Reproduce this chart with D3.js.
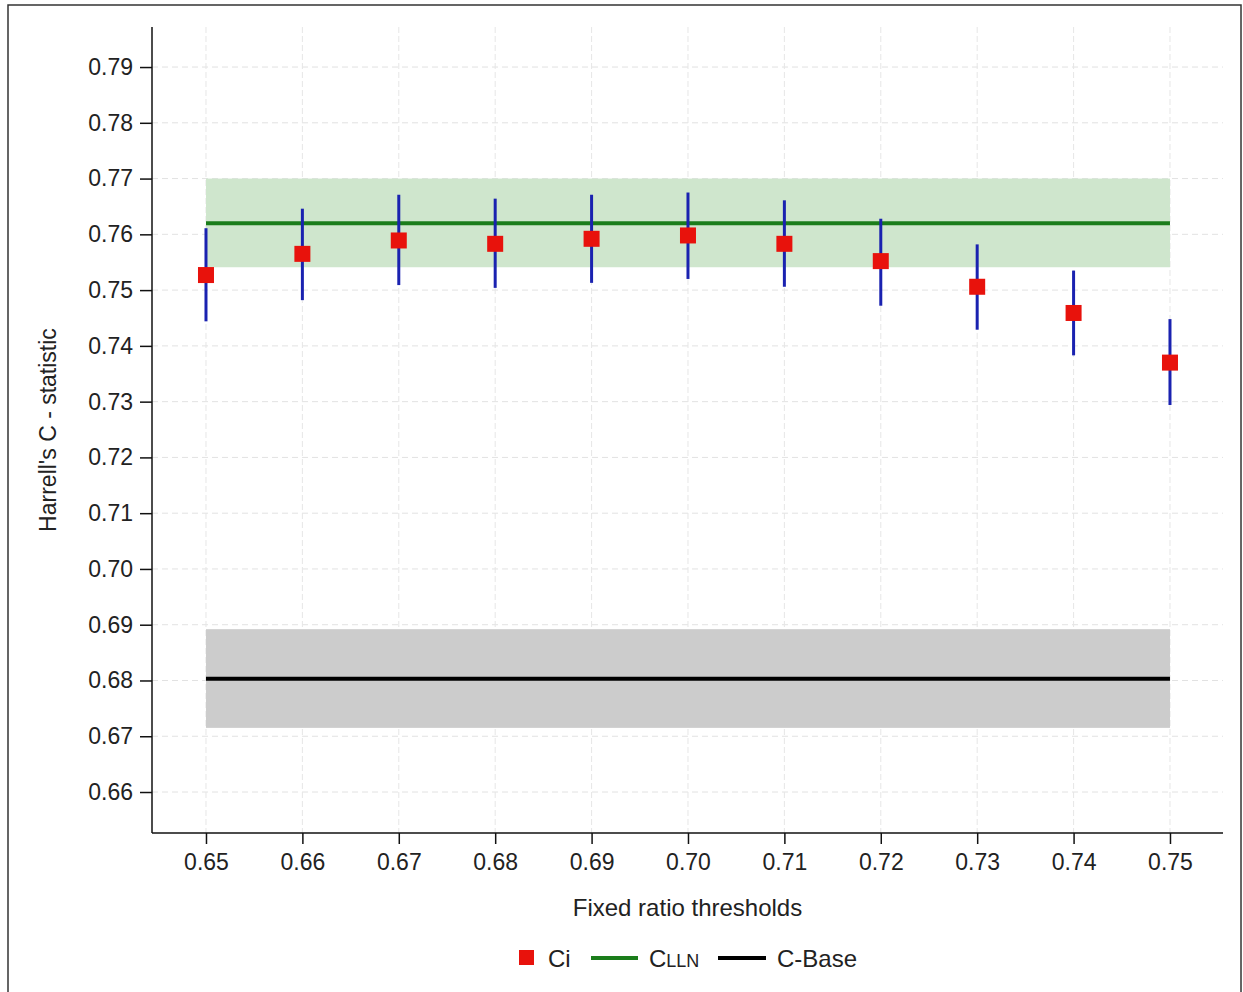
<!DOCTYPE html>
<html>
<head>
<meta charset="utf-8">
<script src="https://cdn.jsdelivr.net/npm/d3@7"></script>
<style>
  body { margin: 0; background: #fff; }
  svg { font-family: "Liberation Sans", Arial, sans-serif; }
</style>
</head>
<body>
<div id="chart"></div>
<script>
// data
var thresholds = [0.65, 0.66, 0.67, 0.68, 0.69, 0.70, 0.71, 0.72, 0.73, 0.74, 0.75]
var ciMean = [0.7527, 0.7565, 0.7589, 0.7583, 0.7592, 0.7598, 0.7583, 0.7552, 0.7506, 0.7459, 0.7370]
var ciLow  = [0.7444, 0.7482, 0.7509, 0.7504, 0.7513, 0.7520, 0.7506, 0.7472, 0.7429, 0.7383, 0.7294]
var ciHigh = [0.7611, 0.7646, 0.7671, 0.7664, 0.7671, 0.7675, 0.7661, 0.7628, 0.7582, 0.7535, 0.7448]

var cLLN = 0.7620
var cLLNBand = [0.7541, 0.7700]
var cBase = 0.6803
var cBaseBand = [0.6715, 0.6892]

var yTicks = [0.66, 0.67, 0.68, 0.69, 0.70, 0.71, 0.72, 0.73, 0.74, 0.75, 0.76, 0.77, 0.78, 0.79]

var W = 1243, H = 992
// plot area (window.top is reserved, so prefixed names)
var pLeft = 152, pRight = 1223, pTop = 27, pBottom = 833

var svg = d3.select("#chart").append("svg")
  .attr("width", W)
  .attr("height", H)

// outer frame
svg.append("rect")
  .attr("x", 8).attr("y", 5)
  .attr("width", 1233).attr("height", 1000)
  .attr("fill", "none")
  .attr("stroke", "#333")
  .attr("stroke-width", 1.5)

var x = d3.scaleLinear().domain([0.6444, 0.7555]).range([pLeft, pRight])
var y = d3.scaleLinear().domain([0.65265, 0.79718]).range([pBottom, pTop])

// grid
svg.append("g").selectAll("line")
  .data(yTicks)
  .join("line")
  .attr("x1", pLeft).attr("x2", pRight)
  .attr("y1", d => y(d)).attr("y2", d => y(d))
  .attr("stroke", "#e2e2e2")
  .attr("stroke-width", 1)
  .attr("stroke-dasharray", "6,4")

svg.append("g").selectAll("line")
  .data(thresholds)
  .join("line")
  .attr("x1", d => x(d)).attr("x2", d => x(d))
  .attr("y1", pTop).attr("y2", pBottom)
  .attr("stroke", "#e6e6e6")
  .attr("stroke-width", 1)
  .attr("stroke-dasharray", "6,3")

var x0 = d3.min(thresholds), x1 = d3.max(thresholds)

// bands
svg.append("rect")
  .attr("x", x(x0)).attr("width", x(x1) - x(x0))
  .attr("y", y(cLLNBand[1])).attr("height", y(cLLNBand[0]) - y(cLLNBand[1]))
  .attr("fill", "#cfe6cd")

svg.append("rect")
  .attr("x", x(x0)).attr("width", x(x1) - x(x0))
  .attr("y", y(cBaseBand[1])).attr("height", y(cBaseBand[0]) - y(cBaseBand[1]))
  .attr("fill", "#cccccc")

// reference lines
svg.append("line")
  .attr("x1", x(x0)).attr("x2", x(x1))
  .attr("y1", y(cLLN)).attr("y2", y(cLLN))
  .attr("stroke", "#1b7d1b").attr("stroke-width", 4)

svg.append("line")
  .attr("x1", x(x0)).attr("x2", x(x1))
  .attr("y1", y(cBase)).attr("y2", y(cBase))
  .attr("stroke", "#000").attr("stroke-width", 4)

// error bars
svg.append("g").selectAll("line")
  .data(thresholds)
  .join("line")
  .attr("x1", d => x(d)).attr("x2", d => x(d))
  .attr("y1", (d, i) => y(ciLow[i])).attr("y2", (d, i) => y(ciHigh[i]))
  .attr("stroke", "#1a22b0")
  .attr("stroke-width", 3)

// points
var sq = 16
svg.append("g").selectAll("rect")
  .data(thresholds)
  .join("rect")
  .attr("x", d => x(d) - sq / 2)
  .attr("y", (d, i) => y(ciMean[i]) - sq / 2)
  .attr("width", sq).attr("height", sq)
  .attr("fill", "#e8120c")

// axes
var yAxis = d3.axisLeft(y).tickValues(yTicks).tickFormat(d3.format(".2f")).tickSize(12).tickPadding(7)
var xAxis = d3.axisBottom(x).tickValues(thresholds).tickFormat(d3.format(".2f")).tickSize(11).tickPadding(10)

var gy = svg.append("g").attr("transform", `translate(${pLeft},0)`).call(yAxis)
var gx = svg.append("g").attr("transform", `translate(0,${pBottom})`).call(xAxis)

;[gy, gx].forEach(function(g) {
  g.attr("font-size", 23).attr("font-family", '"Liberation Sans", Arial, sans-serif')
  g.select(".domain").attr("stroke", "#111").attr("stroke-width", 1.5)
  g.selectAll(".tick line").attr("stroke", "#111").attr("stroke-width", 1.5)
  g.selectAll("text").attr("fill", "#222")
})
gy.select(".domain").attr("d", `M0,${pTop}V${pBottom}`)
gx.select(".domain").attr("d", `M${pLeft},0H${pRight}`)

// titles
svg.append("text")
  .attr("x", (pLeft + pRight) / 2).attr("y", 916)
  .attr("text-anchor", "middle")
  .attr("font-size", 24).attr("fill", "#222")
  .text("Fixed ratio thresholds")

svg.append("text")
  .attr("transform", `translate(56,${(pTop + pBottom) / 2}) rotate(-90)`)
  .attr("text-anchor", "middle")
  .attr("font-size", 23).attr("fill", "#222")
  .text("Harrell's C - statistic")

// legend
var ly = 958
var legend = svg.append("g")
legend.append("rect")
  .attr("x", 519).attr("y", ly - 8).attr("width", 15).attr("height", 15)
  .attr("fill", "#e8120c")
legend.append("text")
  .attr("x", 548).attr("y", ly + 9)
  .attr("font-size", 24).attr("fill", "#222")
  .text("Ci")
legend.append("line")
  .attr("x1", 591).attr("x2", 638).attr("y1", ly).attr("y2", ly)
  .attr("stroke", "#1b7d1b").attr("stroke-width", 4)
var t = legend.append("text")
  .attr("x", 649).attr("y", ly + 9)
  .attr("font-size", 24).attr("fill", "#222")
t.append("tspan").text("C")
t.append("tspan").attr("font-size", 18).text("LLN")
legend.append("line")
  .attr("x1", 718).attr("x2", 766).attr("y1", ly).attr("y2", ly)
  .attr("stroke", "#000").attr("stroke-width", 4)
legend.append("text")
  .attr("x", 777).attr("y", ly + 9)
  .attr("font-size", 24).attr("fill", "#222")
  .text("C-Base")
</script>
</body>
</html>
